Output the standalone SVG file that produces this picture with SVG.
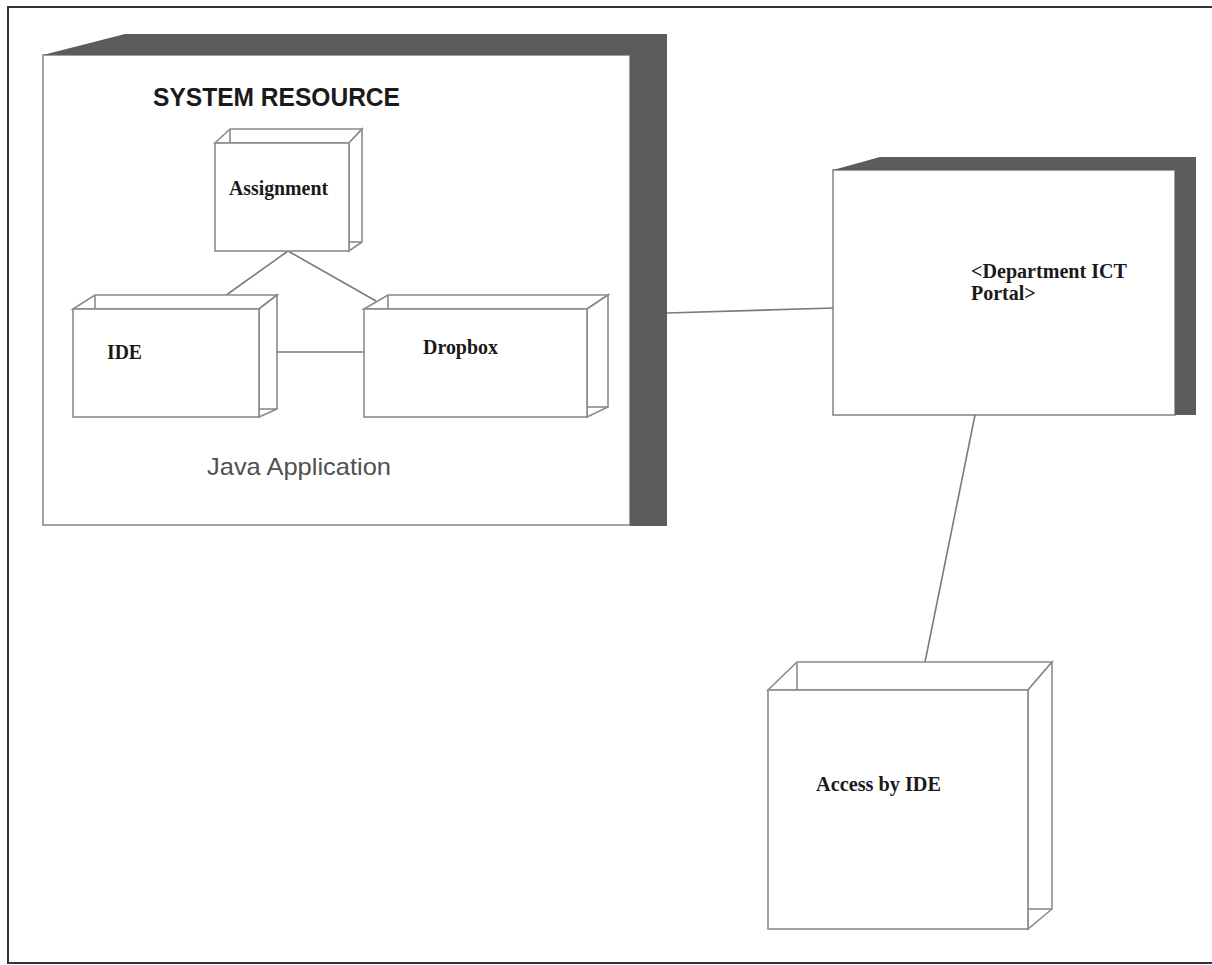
<svg xmlns="http://www.w3.org/2000/svg" width="1212" height="965" viewBox="0 0 1212 965">
<style>
.frame{fill:none;stroke:#333;stroke-width:2}
.face{fill:#fff;stroke:#8a8a8a;stroke-width:1.6}
.edge{fill:none;stroke:#8a8a8a;stroke-width:1.6}
.dark{fill:#5c5c5c;stroke:none}
.conn{fill:none;stroke:#7a7a7a;stroke-width:1.6}
.lbl{font-family:"Liberation Serif","Times New Roman",serif;font-weight:bold;font-size:20px;fill:#1a1a1a}
.title{font-family:"Liberation Sans",Arial,sans-serif;font-weight:bold;font-size:26px;fill:#1a1a1a}
.sub{font-family:"Liberation Sans",Arial,sans-serif;font-size:24px;fill:#505050}
</style>
<rect x="0" y="0" width="1212" height="965" fill="#fff"/>
<path class="frame" d="M1212,7 H8 V963 H1212"/>

<g id="node-java-application">
<rect class="face" x="43" y="55" width="587" height="470"/>
<polygon class="dark" points="43,55 125,34 667,34 667,526 630,526 630,55"/>
<text class="title" x="153" y="106" textLength="247" lengthAdjust="spacingAndGlyphs">SYSTEM RESOURCE</text>
<text class="sub" x="207" y="475" textLength="184" lengthAdjust="spacingAndGlyphs">Java Application</text>
</g>

<g id="node-department-portal">
<rect class="face" x="833" y="170" width="342" height="245"/>
<polygon class="dark" points="833,170 880,157 1196,157 1196,415 1175,415 1175,170"/>
<text class="lbl" x="971" y="278" textLength="156" lengthAdjust="spacingAndGlyphs">&lt;Department ICT</text>
<text class="lbl" x="971" y="300">Portal&gt;</text>
</g>

<g id="connectors">
<line class="conn" x1="288" y1="251" x2="225" y2="296"/>
<line class="conn" x1="288" y1="251" x2="376" y2="301"/>
<line class="conn" x1="277" y1="352" x2="364" y2="352"/>
<line class="conn" x1="667" y1="313" x2="833" y2="308"/>
<line class="conn" x1="975" y1="415" x2="925" y2="662"/>
</g>

<g id="node-assignment">
<polygon class="face" points="215,143 230,129 362,129 349,143"/>
<polygon class="face" points="349,143 362,129 362,242 349,251"/>
<line class="edge" x1="230" y1="129" x2="230" y2="143"/>
<line class="edge" x1="349" y1="242" x2="362" y2="242"/>
<rect class="face" x="215" y="143" width="134" height="108"/>
<text class="lbl" x="229" y="195" textLength="99" lengthAdjust="spacingAndGlyphs">Assignment</text>
</g>

<g id="node-ide">
<polygon class="face" points="73,309 95,295 277,295 259,309"/>
<polygon class="face" points="259,309 277,295 277,409 259,417"/>
<line class="edge" x1="95" y1="295" x2="95" y2="309"/>
<line class="edge" x1="259" y1="409" x2="277" y2="409"/>
<rect class="face" x="73" y="309" width="186" height="108"/>
<text class="lbl" x="107" y="359" textLength="35" lengthAdjust="spacingAndGlyphs">IDE</text>
</g>

<g id="node-dropbox">
<polygon class="face" points="364,309 388,295 608,295 587,309"/>
<polygon class="face" points="587,309 608,295 608,407 587,417"/>
<line class="edge" x1="388" y1="295" x2="388" y2="309"/>
<line class="edge" x1="587" y1="407" x2="608" y2="407"/>
<rect class="face" x="364" y="309" width="223" height="108"/>
<text class="lbl" x="423" y="354" textLength="75" lengthAdjust="spacingAndGlyphs">Dropbox</text>
</g>

<g id="node-access-by-ide">
<polygon class="face" points="768,690 797,662 1052,662 1028,690"/>
<polygon class="face" points="1028,690 1052,662 1052,909 1028,929"/>
<line class="edge" x1="797" y1="662" x2="797" y2="690"/>
<line class="edge" x1="1028" y1="909" x2="1052" y2="909"/>
<rect class="face" x="768" y="690" width="260" height="239"/>
<text class="lbl" x="816" y="791" textLength="125" lengthAdjust="spacingAndGlyphs">Access by IDE</text>
</g>
</svg>
